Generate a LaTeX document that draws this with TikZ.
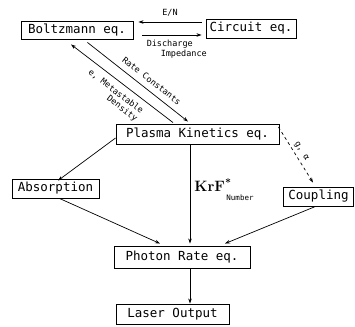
\documentclass[tikz,border=0pt]{standalone}
\usepackage{fontspec}
\newfontfamily\boxfont{DejaVu Sans Mono}
\newfontfamily\labfont{DejaVu Sans Mono}
\usetikzlibrary{arrows.meta}
\begin{document}
\begin{tikzpicture}[x=1pt,y=-1pt,
  box/.style={draw,line width=0.9pt,inner sep=0pt,font=\boxfont\fontsize{12.5}{13}\selectfont},
  conn/.style={line width=0.7pt,-{Stealth[length=5pt,width=3.5pt]}},
  lab/.style={font=\labfont\fontsize{8.5}{9.5}\selectfont,inner sep=1pt},
  tinylab/.style={font=\boxfont\fontsize{7.5}{8}\selectfont,inner sep=1pt}]
\useasboundingbox (0,0) rectangle (355,326);
% boxes
\node[box,minimum width=112pt,minimum height=18pt] (boltz) at (77,30) {Boltzmann eq.};
\node[box,minimum width=90pt,minimum height=19pt] (circ) at (251,28.5) {Circuit eq.};
\node[box,minimum width=163pt,minimum height=20pt] (pk) at (197.5,134) {Plasma Kinetics eq.};
\node[box,minimum width=87pt,minimum height=19pt] (abs) at (55.5,188.5) {Absorption};
\node[box,minimum width=70pt,minimum height=19pt] (coup) at (318.5,196.5) {Coupling};
\node[box,minimum width=136pt,minimum height=22pt] (photon) at (182,257) {Photon Rate eq.};
\node[box,minimum width=113pt,minimum height=20pt] (laser) at (172.5,314) {Laser Output};
% Boltzmann <-> Circuit
\draw[conn] ([xshift=-4pt,yshift=6.5pt]circ.west) -- node[lab,above=4pt]{E/N} ([xshift=5pt,yshift=8pt]boltz.east);
\draw[conn] ([xshift=9pt,yshift=-5pt]boltz.east) -- node[pos=0.05,lab,anchor=north west,yshift=-4pt,align=left]{Discharge\\\hspace{14pt}Impedance} ([xshift=-4pt,yshift=-6.5pt]circ.west);
% Boltzmann <-> Plasma kinetics
\draw[conn] ([xshift=-46pt,yshift=-3pt]boltz.south east) -- node[lab,sloped,above=5pt,pos=0.58]{Rate Constants} ([xshift=-9.5pt,yshift=2pt]pk.north);
\draw[conn] ([xshift=-24.5pt,yshift=1pt]pk.north) -- node[lab,sloped,below=5pt,pos=0.5,align=right]{e, Metastable\\Density\hspace{-12pt}} ([xshift=-6pt,yshift=-5pt]boltz.south);
% Plasma kinetics -> Coupling (dashed)
\draw[conn,dashed] ([xshift=-1pt,yshift=7pt]pk.east) -- node[lab,sloped,above=2pt]{g, α} ([xshift=-5.5pt,yshift=4pt]coup.north);
% Plasma kinetics -> Absorption
\draw[conn] ([yshift=-4pt]pk.west) -- ([xshift=2.5pt,yshift=-2pt]abs.north);
% into Photon rate
\draw[conn] ([xshift=-7.5pt]pk.south) -- ([xshift=8pt,yshift=2pt]photon.north);
\draw[conn] ([xshift=4pt]abs.south) -- ([xshift=-22pt,yshift=2pt]photon.north);
\draw[conn] ([xshift=-3pt]coup.south) -- ([xshift=43pt,yshift=2pt]photon.north);
\node[font=\bfseries\fontsize{15}{15}\selectfont,inner sep=0pt] (krf) at (213,185) {KrF\textsuperscript{*}};
\node[tinylab] (num) at (240,198) {Number};
% Photon -> Laser
\draw[conn] ([xshift=8pt]photon.south) -- ([xshift=17.5pt]laser.north);
\end{tikzpicture}
\end{document}
